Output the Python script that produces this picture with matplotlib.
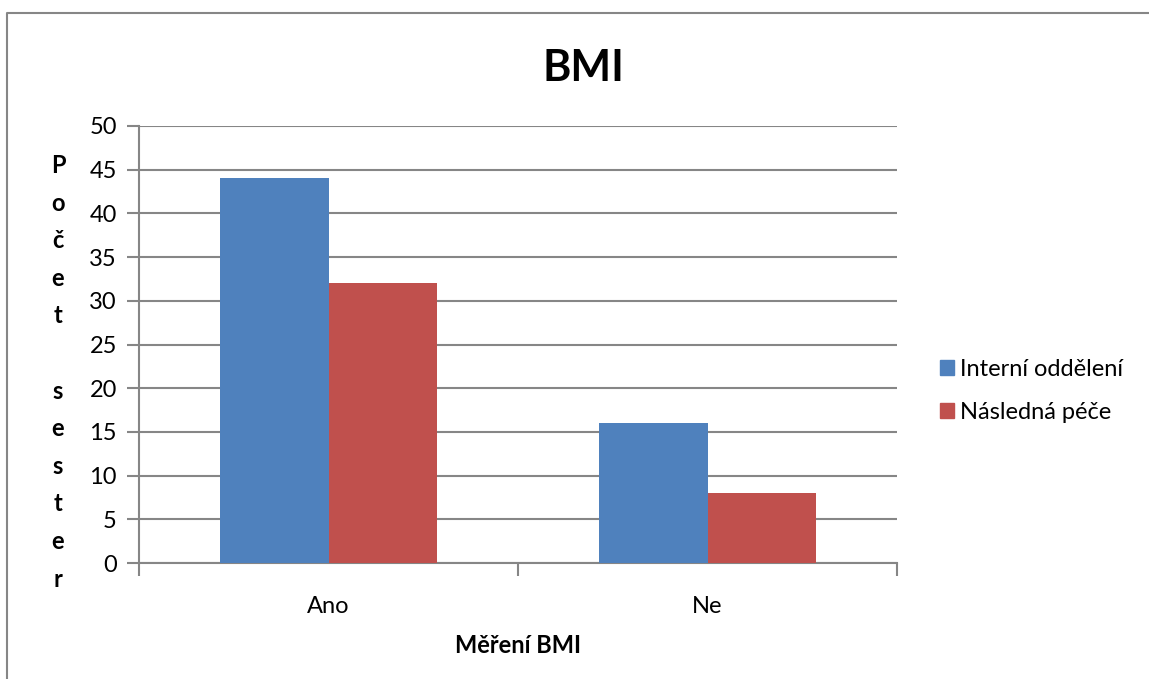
import matplotlib.pyplot as plt
import numpy as np
from matplotlib.lines import Line2D
from matplotlib.patches import Patch

plt.rcParams['font.family'] = ['Lato', 'DejaVu Sans']

# data
categories = ['Ano', 'Ne']
interni = [44, 16]
nasledna = [32, 8]
series_names = ['Interní oddělení', 'Následná péče']
colors = ['#4F81BD', '#C0504D']
grid_color = '#868686'

W, H = 1149, 679
fig = plt.figure(figsize=(W / 100, H / 100), dpi=100)

# outer chart frame: only the left and top edges fall inside the image
fig.add_artist(Line2D([7 / W, 7 / W, 1.0], [0.0, 1 - 13 / H, 1 - 13 / H],
                      transform=fig.transFigure, color=grid_color, lw=1.5))

ax = fig.add_axes([139 / W, 116 / H, (897 - 139) / W, (563 - 126) / H])

x = np.arange(len(categories))
bw = 0.285
ax.bar(x - bw / 2, interni, bw, color=colors[0], zorder=3)
ax.bar(x + bw / 2, nasledna, bw, color=colors[1], zorder=3)

ax.set_xlim(-0.5, len(categories) - 0.5)
ax.set_ylim(0, 50)
ax.set_yticks(np.arange(0, 51, 5))
ax.grid(axis='y', color=grid_color, lw=1.5, zorder=0)

fs = 17
ax.set_xticks(x)
ax.set_xticklabels(categories, fontsize=fs)
ax.set_xticks(np.arange(-0.5, len(categories), 1), minor=True)
ax.tick_params(axis='x', which='major', length=0, pad=24)
ax.tick_params(axis='x', which='minor', length=9, width=1.5, color=grid_color)
ax.tick_params(axis='y', length=9, width=1.5, color=grid_color, labelsize=fs, pad=7)

for side in ['top', 'right']:
    ax.spines[side].set_visible(False)
for side in ['left', 'bottom']:
    ax.spines[side].set_color(grid_color)
    ax.spines[side].set_linewidth(1.5)

ax.set_xlabel('Měření BMI', fontsize=fs, fontweight='bold', labelpad=12)
fig.text(583 / W, 1 - 68 / H, 'BMI', fontsize=31, fontweight='bold',
         ha='center', va='center')

# vertical y-axis label, one letter per line
label = 'Počet sester'
for i, ch in enumerate(label):
    fig.text(58 / W, 1 - (173 + i * 37.6) / H, ch, fontsize=fs,
             fontweight='bold', ha='center', va='baseline')

handles = [Patch(color=c, label=n) for c, n in zip(colors, series_names)]
fig.legend(handles=handles, loc='center left',
           bbox_to_anchor=(919 / W, 1 - 391 / H), frameon=False, fontsize=fs,
           handlelength=0.6, handleheight=0.6, handletextpad=0.25,
           labelspacing=0.95)

fig.savefig('out.png', dpi=100)
